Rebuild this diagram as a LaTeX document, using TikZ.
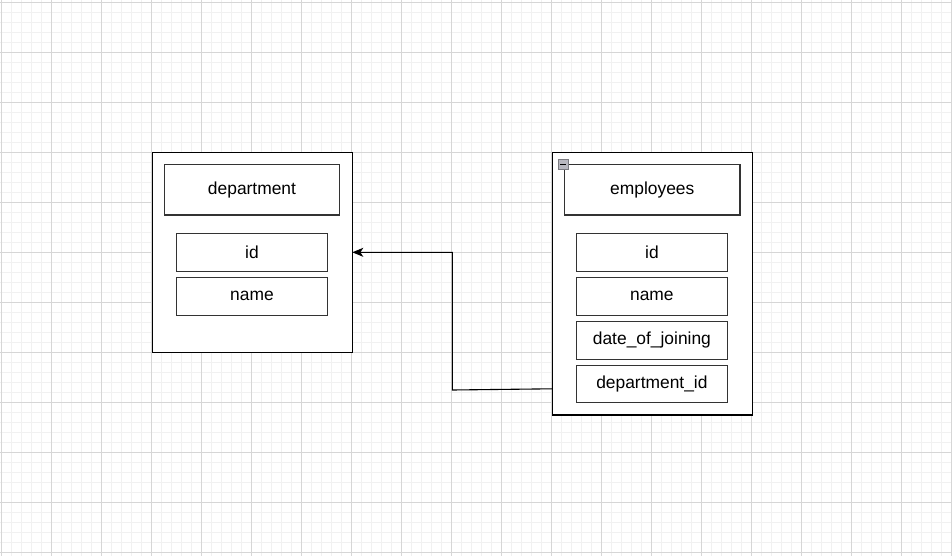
\documentclass[tikz,border=0pt]{standalone}
\usepackage{fontspec}
\setmainfont{Liberation Sans}
\usetikzlibrary{arrows.meta}
\definecolor{gridminor}{HTML}{F1F1F1}
\definecolor{gridmajor}{HTML}{D6D6D6}
\definecolor{rowline}{HTML}{333333}
\definecolor{iconfill}{HTML}{B8B8C0}
\definecolor{iconline}{HTML}{7A7A80}
\tikzset{
  outerbox/.style={draw=black, line width=1.3pt, fill=white, anchor=north west, inner sep=0pt, outer sep=0pt, minimum width=200pt},
  headbox/.style={draw=rowline, line width=1.1pt, fill=white, anchor=north west, inner sep=0pt, outer sep=0pt, minimum width=175.4pt, minimum height=50.3pt, font=\fontsize{17.4}{20}\selectfont},
  rowbox/.style={draw=rowline, line width=1.1pt, fill=white, anchor=north west, inner sep=0pt, outer sep=0pt, minimum width=150.4pt, minimum height=37.4pt, font=\fontsize{17.4}{20}\selectfont},
  link/.style={draw=black, line width=1.1pt, -{Stealth[length=11pt,width=9pt,inset=3pt]}},
}
\begin{document}
\begin{tikzpicture}[x=1pt,y=-1pt]
\useasboundingbox (0,0) rectangle (952,556);
\fill[white] (0,0) rectangle (952,556);
% grid
\foreach \i in {0,...,95} {
  \draw[gridminor, line width=0.8pt] ({1.7+10*\i},0) -- ({1.7+10*\i},556);
}
\foreach \j in {0,...,55} {
  \draw[gridminor, line width=0.8pt] (0,{2.3+10*\j}) -- (952,{2.3+10*\j});
}
\foreach \i in {0,...,19} {
  \draw[gridmajor, line width=0.9pt] ({1.7+50*\i},0) -- ({1.7+50*\i},556);
}
\foreach \j in {0,...,11} {
  \draw[gridmajor, line width=0.9pt] (0,{2.3+50*\j}) -- (952,{2.3+50*\j});
}
% department table
\node[outerbox, minimum height=200pt] (dept) at (152.3,152.3) {};
\node[headbox] (depthead) at (164.3,164.7) {department};
\node[rowbox] (deptid) at (176.8,233.8) {id};
\node[rowbox] (deptname) at (176.8,277.7) {name};
% employees table
\node[outerbox, minimum height=262.7pt] (emp) at (552.3,152.3) {};
\node[headbox] (emphead) at (564.6,164.7) {employees};
\node[rowbox] (empid) at (576.7,233.8) {id};
\node[rowbox] (empname) at (576.7,277.7) {name};
\node[rowbox] (empdate) at (576.7,321.7) {date\_of\_joining};
\node[rowbox] (empdept) at (576.7,365.2) {department\_id};
% collapse icon
\node[draw=iconline, fill=iconfill, line width=0.8pt, minimum size=9.5pt, inner sep=0pt, anchor=north west] (icon) at (558,159.2) {};
\draw[black, line width=1.4pt] ([xshift=-2.8pt]icon.center) -- ([xshift=2.8pt]icon.center);
% connector
\coordinate (src) at (552.3,388.8);
\coordinate (bend) at (452.3,390);
\draw[link] (src) -- (bend) -- (452.3,252.3) -- (dept.east);
\end{tikzpicture}
\end{document}
